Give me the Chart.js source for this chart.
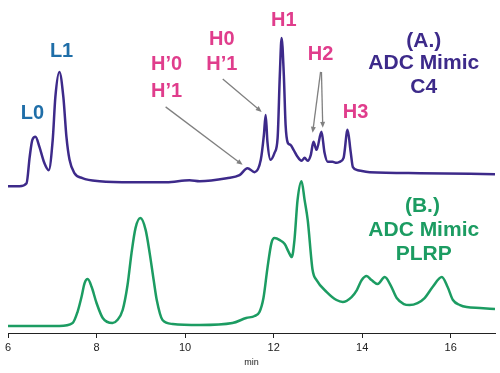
<!DOCTYPE html>
<html>
<head>
<meta charset="utf-8">
<script src="https://cdn.jsdelivr.net/npm/chart.js@4.4.1/dist/chart.umd.min.js"></script>
<style>
  body { margin: 0; background: #fff; }
  canvas { display: block; }
</style>
</head>
<body>
<canvas id="chromChart" width="500" height="373"></canvas>
<script>
// retention time (min) and relative signal
const c4Time = [6.00, 6.26, 6.42, 6.49, 6.55, 6.62, 6.71, 6.82, 6.92, 7.01, 7.07, 7.16, 7.25, 7.32, 7.39, 7.50, 7.68, 8.07, 8.81, 9.58, 10.10, 10.33, 10.94, 11.23, 11.41, 11.57, 11.71, 11.78, 11.82, 11.86, 11.93, 12.02, 12.09, 12.14, 12.18, 12.23, 12.27, 12.32, 12.38, 12.45, 12.54, 12.63, 12.70, 12.77, 12.84, 12.90, 12.97, 13.08, 13.15, 13.22, 13.33, 13.42, 13.49, 13.58, 13.67, 13.74, 13.79, 13.90, 14.17, 15.30, 17.00];
const c4Signal = [44.1, 44.1, 45.0, 52.9, 58.0, 58.9, 55.9, 51.1, 48.9, 58.0, 70.9, 78.4, 70.9, 58.9, 52.0, 48.0, 46.5, 45.6, 45.3, 45.3, 45.9, 45.6, 46.5, 47.4, 49.5, 48.3, 52.0, 59.5, 65.5, 57.4, 52.0, 54.1, 58.6, 77.5, 88.6, 77.5, 62.5, 57.1, 56.5, 55.0, 52.9, 51.7, 52.6, 51.7, 53.5, 57.4, 55.0, 60.4, 54.1, 51.4, 51.4, 51.1, 51.4, 52.6, 61.0, 54.4, 49.8, 48.9, 48.3, 48.0, 47.7];

const plrpTime = [6.00, 7.16, 7.46, 7.57, 7.66, 7.73, 7.80, 7.89, 8.00, 8.14, 8.36, 8.47, 8.59, 8.70, 8.79, 8.88, 8.99, 9.11, 9.20, 9.29, 9.36, 9.49, 9.72, 10.33, 11.07, 11.38, 11.57, 11.68, 11.77, 11.86, 11.95, 12.02, 12.14, 12.25, 12.34, 12.41, 12.47, 12.54, 12.63, 12.70, 12.77, 12.88, 12.97, 13.20, 13.42, 13.56, 13.76, 13.88, 13.99, 14.10, 14.21, 14.35, 14.51, 14.64, 14.78, 14.94, 15.07, 15.25, 15.41, 15.59, 15.80, 15.93, 16.05, 16.21, 16.36, 16.66, 17.00];
const plrpSignal = [2.1, 2.1, 3.0, 6.3, 10.8, 15.0, 16.2, 13.8, 9.0, 4.5, 3.0, 3.9, 6.9, 14.4, 24.0, 31.5, 34.5, 30.9, 24.0, 15.9, 9.9, 3.9, 2.7, 2.4, 3.0, 4.5, 5.1, 6.3, 10.5, 19.5, 27.0, 28.5, 27.9, 26.7, 24.3, 22.8, 27.9, 39.9, 45.6, 39.9, 33.9, 18.9, 15.9, 12.3, 9.9, 9.3, 10.8, 12.9, 15.9, 17.1, 15.9, 14.7, 16.8, 14.4, 10.5, 8.7, 8.4, 9.0, 10.5, 13.8, 16.8, 13.8, 9.9, 8.4, 7.8, 7.5, 7.2];

const xTicks = [6, 8, 10, 12, 14, 16];

const purple = "#3d2a8a";
const green = "#1c9c62";
const pink = "#e03d8c";
const blue = "#1f6ea8";

// text notes and arrows placed in data coordinates
const notes = [
    { text: "L0", x: 6.55, y: 65.8, color: blue },
    { text: "L1", x: 7.21, y: 84.4, color: blue },
    { text: "H\u20190", x: 9.58, y: 80.5, color: pink },
    { text: "H\u20191", x: 9.58, y: 72.4, color: pink },
    { text: "H0", x: 10.83, y: 88.0, color: pink },
    { text: "H\u20191", x: 10.83, y: 80.5, color: pink },
    { text: "H1", x: 12.23, y: 93.7, color: pink },
    { text: "H2", x: 13.06, y: 83.5, color: pink },
    { text: "H3", x: 13.85, y: 66.1, color: pink },
    { text: "(A.)", x: 15.39, y: 87.7, color: purple, size: 21 },
    { text: "ADC Mimic", x: 15.39, y: 81.1, color: purple, size: 21 },
    { text: "C4", x: 15.39, y: 73.9, color: purple, size: 21 },
    { text: "(B.)", x: 15.36, y: 38.1, color: green, size: 21 },
    { text: "ADC Mimic", x: 15.39, y: 30.9, color: green, size: 21 },
    { text: "PLRP", x: 15.39, y: 23.7, color: green, size: 21 },
];

const arrows = [
    { from: [9.56, 67.9], to: [11.30, 50.5] },
    { from: [10.85, 76.3], to: [11.73, 66.4] },
    { from: [13.06, 78.4], to: [12.88, 60.1] },
    { from: [13.08, 78.4], to: [13.11, 61.6] },
];

const notesPlugin = {
    id: "notes",
    afterDatasetsDraw(chart) {
        const ctx = chart.ctx;
        const xs = chart.scales.x;
        const ys = chart.scales.y;
        ctx.save();

        ctx.strokeStyle = "#808080";
        ctx.fillStyle = "#808080";
        ctx.lineWidth = 1.3;
        arrows.forEach(function (a) {
            const x1 = xs.getPixelForValue(a.from[0]);
            const y1 = ys.getPixelForValue(a.from[1]);
            const x2 = xs.getPixelForValue(a.to[0]);
            const y2 = ys.getPixelForValue(a.to[1]);
            const ang = Math.atan2(y2 - y1, x2 - x1);
            const len = 6;
            ctx.beginPath();
            ctx.moveTo(x1, y1);
            ctx.lineTo(x2 - Math.cos(ang) * len * 0.8, y2 - Math.sin(ang) * len * 0.8);
            ctx.stroke();
            ctx.beginPath();
            ctx.moveTo(x2, y2);
            ctx.lineTo(x2 - len * Math.cos(ang) + 2.5 * Math.sin(ang), y2 - len * Math.sin(ang) - 2.5 * Math.cos(ang));
            ctx.lineTo(x2 - len * Math.cos(ang) - 2.5 * Math.sin(ang), y2 - len * Math.sin(ang) + 2.5 * Math.cos(ang));
            ctx.closePath();
            ctx.fill();
        });

        ctx.textAlign = "center";
        ctx.textBaseline = "middle";
        notes.forEach(function (n) {
            ctx.font = "bold " + (n.size || 20) + "px 'Liberation Sans', Arial, sans-serif";
            ctx.fillStyle = n.color;
            ctx.fillText(n.text, xs.getPixelForValue(n.x), ys.getPixelForValue(n.y));
        });
        ctx.restore();
    },
};

function toPoints(times, values) {
    return times.map(function (t, i) {
        return { x: t, y: values[i] };
    });
}

document.addEventListener("DOMContentLoaded", function () {
    const ctx = document.getElementById("chromChart").getContext("2d");

    new Chart(ctx, {
        type: "line",
        data: {
            datasets: [
                {
                    label: "ADC Mimic C4",
                    data: toPoints(c4Time, c4Signal),
                    borderColor: purple,
                    borderWidth: 2.5,
                    pointRadius: 0,
                    cubicInterpolationMode: "monotone",
                    fill: false,
                },
                {
                    label: "ADC Mimic PLRP",
                    data: toPoints(plrpTime, plrpSignal),
                    borderColor: green,
                    borderWidth: 2.5,
                    pointRadius: 0,
                    cubicInterpolationMode: "monotone",
                    fill: false,
                },
            ],
        },
        options: {
            responsive: false,
            animation: false,
            devicePixelRatio: 1,
            layout: {
                padding: { left: 8, right: 5, top: 0, bottom: 0 },
            },
            plugins: {
                legend: { display: false },
                tooltip: { enabled: false },
            },
            scales: {
                x: {
                    type: "linear",
                    min: 6,
                    max: 17,
                    afterBuildTicks: function (scale) {
                        scale.ticks = xTicks.map(function (v) {
                            return { value: v };
                        });
                    },
                    afterFit: function (scale) {
                        scale.height = 40;
                    },
                    grid: {
                        display: true,
                        drawOnChartArea: false,
                        drawTicks: true,
                        tickLength: 5,
                        color: "#222",
                    },
                    border: {
                        display: true,
                        color: "#222",
                        width: 1,
                    },
                    ticks: {
                        color: "#222",
                        padding: 3,
                        maxRotation: 0,
                        font: { family: "'Liberation Sans', Arial, sans-serif", size: 11 },
                    },
                    title: {
                        display: true,
                        text: "min",
                        color: "#222",
                        font: { family: "'Liberation Sans', Arial, sans-serif", size: 9 },
                        padding: { top: 0, bottom: 5 },
                    },
                },
                y: {
                    display: false,
                    min: 0,
                    max: 100,
                },
            },
        },
        plugins: [notesPlugin],
    });
});
</script>
</body>
</html>
